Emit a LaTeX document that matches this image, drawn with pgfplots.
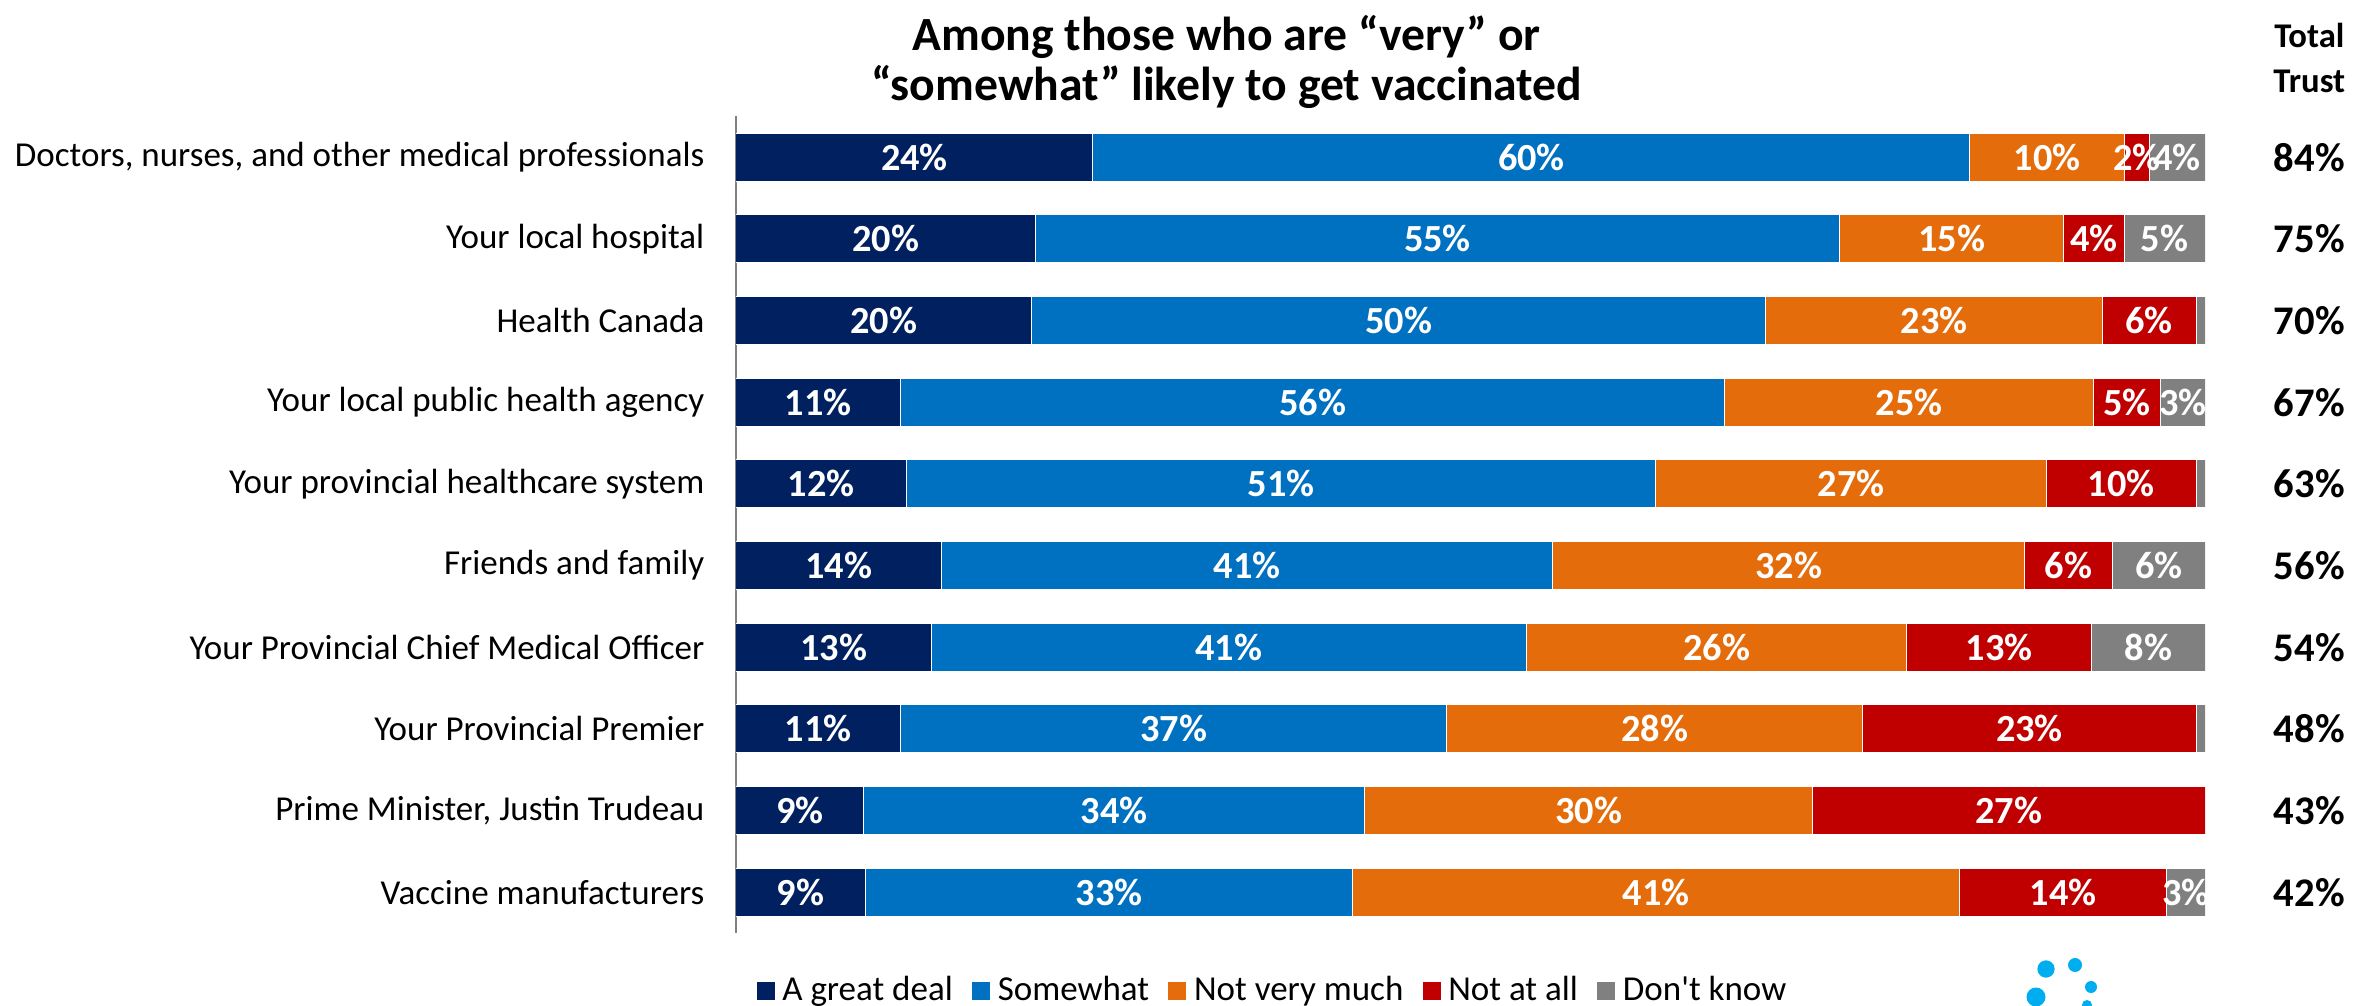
\documentclass[border=0pt]{standalone}
\usepackage{fontspec}
\setmainfont{Carlito}[Ligatures=TeXOff]
\usepackage{pgfplots}
\usepackage{pgfplotstable}
\pgfplotsset{compat=1.18}
\definecolor{cA}{HTML}{002060}
\definecolor{cB}{HTML}{0070C0}
\definecolor{cC}{HTML}{E46C0A}
\definecolor{cD}{HTML}{C00000}
\definecolor{cE}{HTML}{808080}
\definecolor{logo}{HTML}{00AEEF}
\pgfplotstableread{
y a b c d e la lb lc ld tt
1 24.3 59.7 10.5 1.7 3.8 24 60 10 2 84
2 20.4 54.7 15.3 4.1 5.5 20 55 15 4 75
3 20.1 50.0 22.9 6.4 0.6 20 50 23 6 70
4 11.2 56.1 25.1 4.6 3.0 11 56 25 5 67
5 11.6 51.0 26.6 10.2 0.6 12 51 27 10 63
6 14.0 41.6 32.1 6.0 6.3 14 41 32 6 56
7 13.3 40.5 25.9 12.6 7.7 13 41 26 13 54
8 11.2 37.2 28.3 22.7 0.6 11 37 28 23 48
9 8.7 34.1 30.5 26.7 0.0 9 34 30 27 43
10 8.8 33.2 41.3 14.1 2.6 9 33 41 14 42
}\data
\newcommand{\barfont}{\fontsize{11.5}{13}\selectfont\bfseries}
\newcommand{\catfont}{\fontsize{10.5}{12}\selectfont}
\pgfplotsset{sqlegend/.style={legend image code/.code={\fill[##1] (0pt,-2.85pt) rectangle (5.7pt,2.85pt);}}}
\begin{document}
\begin{tikzpicture}
\path[use as bounding box] (-220.8pt,-21.9pt) rectangle (490.5pt,279.9pt);
\begin{axis}[
  at={(0,0)}, anchor=south west,
  scale only axis, width=440.7pt, height=245pt,
  xbar stacked, bar width=14.4pt,
  xmin=0, xmax=100, ymin=0.5, ymax=10.5, y dir=reverse,
  axis x line=none, axis y line=left,
  axis line style={-, draw=black!50, line width=0.6pt},
  xtick=\empty, ytick={1,...,10}, major tick length=0pt,
  yticklabels={{Doctors, nurses, and other medical professionals},{Your local hospital},{Health Canada},{Your local public health agency},{Your provincial healthcare system},{Friends and family},{Your Provincial Chief Medical Officer},{Your Provincial Premier},{Prime Minister, Justin Trudeau},{Vaccine manufacturers}},
  yticklabel style={font=\catfont, anchor=east, inner sep=0pt, xshift=-9.3pt},
  legend columns=5,
  legend style={at={(0,0)}, anchor=west, xshift=5.7pt, yshift=-17.4pt, draw=none, inner sep=0pt, font=\catfont,
    nodes={inner sep=1pt},
    /tikz/every odd column/.append style={column sep=1pt},
    /tikz/every even column/.append style={column sep=4.5pt}},
]
\addplot[fill=cA, draw=white, line width=0.3pt, sqlegend] table[x=a, y=y]{\data};
\addplot[fill=cB, draw=white, line width=0.3pt, sqlegend] table[x=b, y=y]{\data};
\addplot[fill=cC, draw=white, line width=0.3pt, sqlegend] table[x=c, y=y]{\data};
\addplot[fill=cD, draw=white, line width=0.3pt, sqlegend] table[x=d, y=y]{\data};
\addplot[fill=cE, draw=white, line width=0.3pt, sqlegend] table[x=e, y=y]{\data};
\legend{A great deal, Somewhat, Not very much, Not at all, Don't know}
\end{axis}
\begin{axis}[
  at={(0,0)}, anchor=south west,
  scale only axis, width=440.7pt, height=245pt,
  xmin=0, xmax=100, ymin=0.5, ymax=10.5, y dir=reverse,
  hide axis, clip=false,
  point meta=explicit symbolic,
  nodes near coords={\pgfplotspointmeta\%},
  every node near coord/.append style={anchor=center, text=white, font=\barfont, inner sep=0pt},
]
\addplot[only marks, mark=none] table[x expr=\thisrow{a}/2, y=y, meta=la]{\data};
\addplot[only marks, mark=none] table[x expr=\thisrow{a}+\thisrow{b}/2, y=y, meta=lb]{\data};
\addplot[only marks, mark=none] table[x expr=\thisrow{a}+\thisrow{b}+\thisrow{c}/2, y=y, meta=lc]{\data};
\addplot[only marks, mark=none] table[x expr=\thisrow{a}+\thisrow{b}+\thisrow{c}+\thisrow{d}/2, y=y, meta=ld]{\data};
\addplot[only marks, mark=none] coordinates {(98.1,1) [4] (97.25,2) [5] (98.5,4) [3] (96.85,6) [6] (96.15,7) [8] (98.7,10) [3]};
\addplot[only marks, mark=none, every node near coord/.append style={text=black, font=\fontsize{12.2}{14}\selectfont\bfseries}] table[x expr=107.1, y=y, meta=tt]{\data};
\node[font=\fontsize{14.3}{15}\selectfont\bfseries, align=center] at (axis cs:33.4,-0.16) {Among those who are “very” or\\“somewhat” likely to get vaccinated};
\node[font=\fontsize{10.4}{13.5}\selectfont\bfseries, align=center] at (axis cs:107.1,-0.22) {Total\\Trust};
\end{axis}
\fill[logo] (393.0pt,-10.8pt) circle (2.6pt);
\fill[logo] (401.7pt,-9.6pt) circle (2.1pt);
\fill[logo] (406.5pt,-16.2pt) circle (1.8pt);
\fill[logo] (390.0pt,-19.2pt) circle (2.85pt);
\fill[logo] (405.3pt,-21.6pt) circle (1.5pt);
\end{tikzpicture}
\end{document}
